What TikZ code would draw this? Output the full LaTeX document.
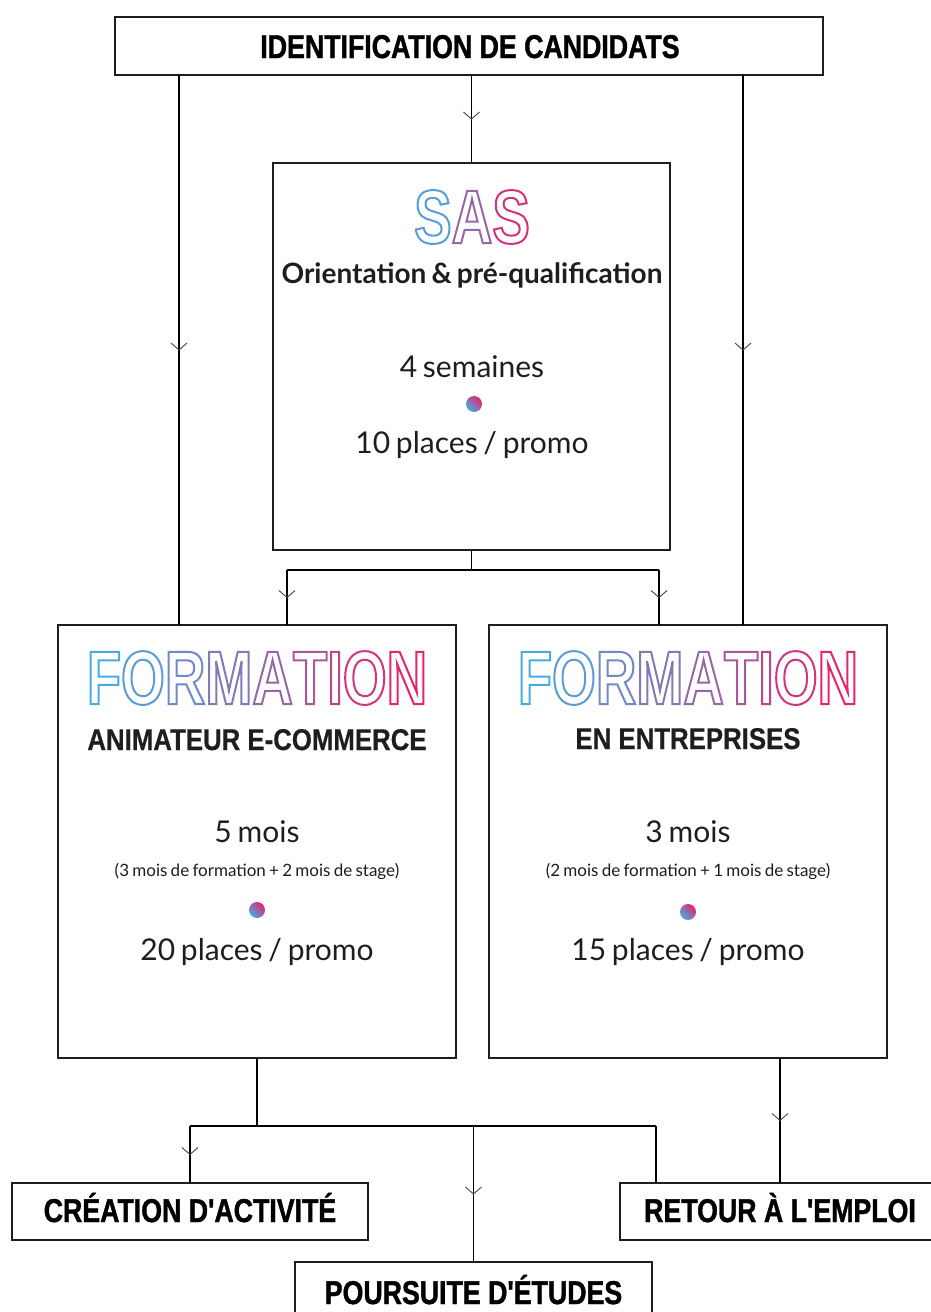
\documentclass[tikz,border=0pt]{standalone}
\usepackage{fontspec}
\setmainfont{Lato}[WordSpace=0.75]
\newfontfamily\condb{Liberation Sans}[FakeStretch=0.81, FakeBold=1.2]
\newfontfamily\headb{Liberation Sans}[FakeStretch=0.86, FakeBold=0.5]
\newfontfamily\dinf{Liberation Sans}[FakeStretch=0.74]
\usetikzlibrary{decorations.markings}
\definecolor{gB}{RGB}{72,172,226}
\definecolor{gR}{RGB}{228,36,110}
\definecolor{edge}{RGB}{30,30,30}
\definecolor{tipc}{RGB}{70,70,70}
\definecolor{txt}{RGB}{30,30,30}
\newcommand\olet[2]{{\color{gR!#1!gB}\special{pdf:literal direct 1 Tr 2 w}#2\special{pdf:literal direct 0 Tr}}}
\tikzset{
  box/.style={draw=edge, line width=2.5pt, fill=white, inner sep=0pt, outer sep=0pt, anchor=north west},
  conn/.style={line width=1.3pt, black},
  midv/.style={postaction={decorate}, decoration={markings, mark=at position 0.5 with {\draw[tipc, line width=0.9pt] (-7pt,8pt) -- (0pt,0pt) -- (-7pt,-8pt);}}},
  cond/.style={font=\condb\bfseries\fontsize{33}{36}\selectfont, text=black, anchor=base, inner sep=0pt},
  outl/.style={font=\dinf\bfseries\fontsize{76}{80}\selectfont, inner sep=0pt},
  sub/.style={font=\bfseries\fontsize{28}{32}\selectfont, text=txt},
  subb/.style={font=\headb\bfseries\fontsize{30}{34}\selectfont, text=txt, anchor=base, inner sep=0pt},
  big/.style={font=\fontsize{30}{34}\selectfont, text=txt},
  small/.style={font=\fontsize{17}{20}\selectfont, text=txt},
  dot/.style={circle, minimum size=16pt, inner sep=0pt, left color=gB, right color=gR, shading angle=135},
}
\begin{document}
\begin{tikzpicture}[x=1pt, y=-1pt]
\clip (0,0) rectangle (931,1312);
\fill[white] (0,0) rectangle (931,1312);
% boxes
\node[box, minimum width=708pt, minimum height=58pt] (top) at (115,17) {};
\node[cond] (toptxt) at (470,58) {IDENTIFICATION DE CANDIDATS};
\node[box, minimum width=397pt, minimum height=387pt] (sas) at (273,163) {};
\node[box, minimum width=398pt, minimum height=433pt] (fl) at (58,625) {};
\node[box, minimum width=398pt, minimum height=433pt] (fr) at (489,625) {};
\node[box, minimum width=356pt, minimum height=57pt] (cre) at (12,1183) {};
\node[cond] (cretxt) at (190,1222) {CRÉATION D'ACTIVITÉ};
\node[box, minimum width=320pt, minimum height=57pt] (ret) at (620,1183) {};
\node[cond] (rettxt) at (780,1222) {RETOUR À L'EMPLOI};
\node[box, minimum width=357pt, minimum height=70pt] (pou) at (295,1262) {};
\node[cond] (poutxt) at (473.5,1304) {POURSUITE D'ÉTUDES};
% SAS content
\node[outl] (sastitle) at (472,217) {\olet{10}{S}\olet{50}{A}\olet{90}{S}};
\node[sub] (sasorient) at (472,275) {Orientation \& pré-qualification};
\node[big] (sasdur) at (472,367) {4 semaines};
\node[dot] (sasdot) at (474,404) {};
\node[big] (sasplaces) at (472,445) {10 places / promo};
% left formation
\node[outl] (fltitle) at (257,678) {\olet{0}{F}\olet{12}{O}\olet{25}{R}\olet{37}{M}\olet{50}{A}\olet{62}{T}\olet{75}{I}\olet{87}{O}\olet{100}{N}};
\node[subb] (flsub) at (257,750) {ANIMATEUR E-COMMERCE};
\node[big] (fldur) at (257,832) {5 mois};
\node[small] (fldet) at (257,871) {(3 mois de formation + 2 mois de stage)};
\node[dot] (fldot) at (257,910) {};
\node[big] (flplaces) at (257,952) {20 places / promo};
% right formation
\node[outl] (frtitle) at (688,678) {\olet{0}{F}\olet{12}{O}\olet{25}{R}\olet{37}{M}\olet{50}{A}\olet{62}{T}\olet{75}{I}\olet{87}{O}\olet{100}{N}};
\node[subb] (frsub) at (688,749) {EN ENTREPRISES};
\node[big] (frdur) at (688,832) {3 mois};
\node[small] (frdet) at (688,871) {(2 mois de formation + 1 mois de stage)};
\node[dot] (frdot) at (688,912) {};
\node[big] (frplaces) at (688,952) {15 places / promo};
% helper coordinates
\coordinate (xl) at (179,0);
\coordinate (xr) at (743,0);
\coordinate (j1) at (473,570);
\coordinate (xa) at (287,0);
\coordinate (xb) at (659,0);
\coordinate (j2) at (257,1126);
\coordinate (xc) at (190,0);
\coordinate (xd) at (656,0);
% connectors
\draw[conn, midv] (top.south -| xl) -- (fl.north -| xl);
\draw[conn, midv] (top.south -| xr) -- (fr.north -| xr);
\draw[conn, midv] (sas.north |- top.south) -- (sas.north);
\draw[conn] (sas.south) -- (sas.south |- j1);
\draw[conn] (xa |- j1) -- (xb |- j1);
\draw[conn, midv] (xa |- j1) -- (xa |- fl.north);
\draw[conn, midv] (xb |- j1) -- (xb |- fr.north);
\draw[conn] (fl.south) -- (fl.south |- j2);
\draw[conn] (xc |- j2) -- (xd |- j2);
\draw[conn, midv] (cre.north |- j2) -- (cre.north);
\draw[conn, midv] (pou.north |- j2) -- (pou.north);
\draw[conn] (xd |- j2) -- (xd |- ret.north);
\draw[conn, midv] (ret.north |- fr.south) -- (ret.north);
\end{tikzpicture}
\end{document}
